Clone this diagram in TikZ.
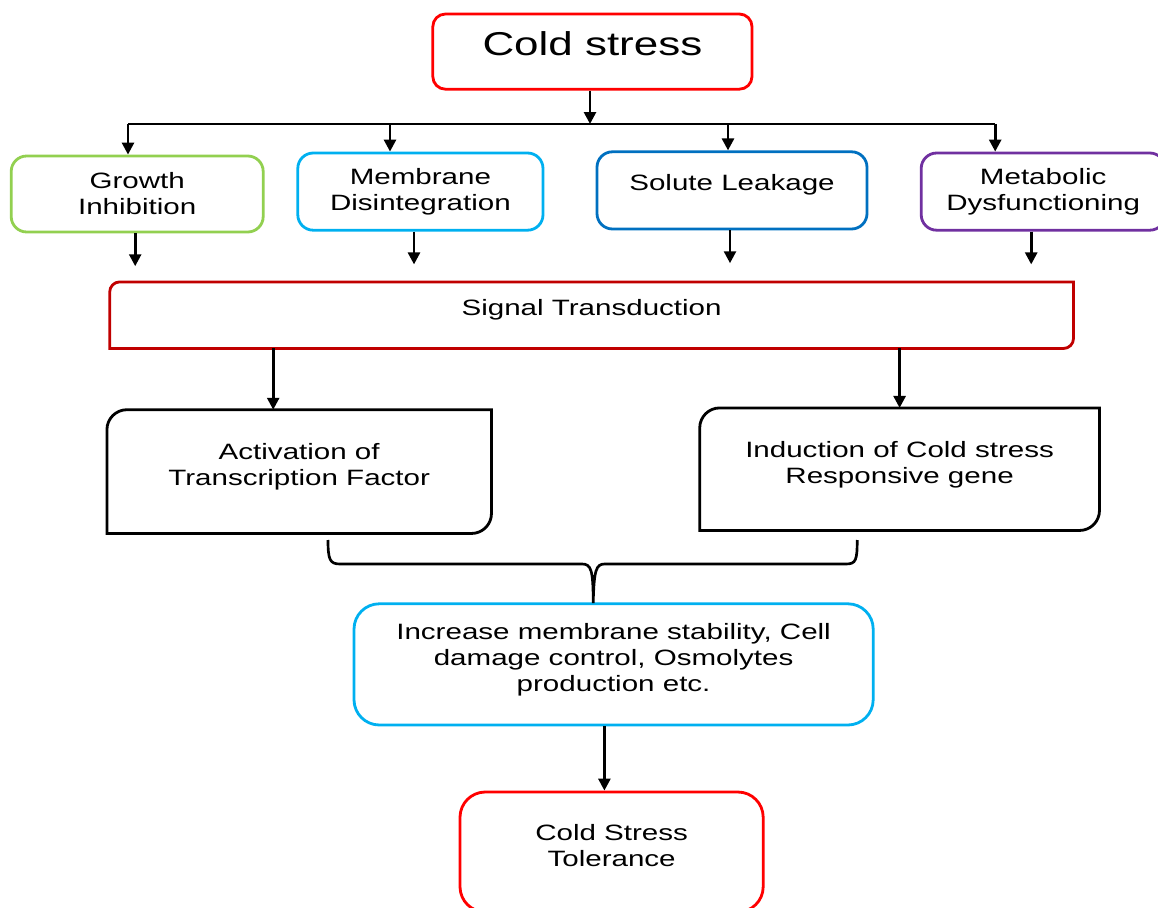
\documentclass[tikz,border=0pt]{standalone}
\usepackage{fontspec}
\setmainfont{Liberation Sans}[FakeStretch=1.33]
\usepackage{tikz}
\usetikzlibrary{calc}
\usetikzlibrary{arrows.meta}
\definecolor{coldred}{RGB}{255, 0, 0}
\definecolor{signalred}{RGB}{192, 0, 0}
\definecolor{leafgreen}{RGB}{146, 208, 80}
\definecolor{skyblue}{RGB}{0, 176, 240}
\definecolor{deepblue}{RGB}{0, 112, 192}
\definecolor{grape}{RGB}{112, 48, 160}
\tikzset{
    box/.style={draw=#1, line width=2pt, align=center,
                font=\fontsize{15.8}{18.5}\selectfont},
    flag/.style={align=center, font=\fontsize{15.8}{18.5}\selectfont},
    lift/.style={text depth=#1},
    arr/.style={line width=1.9pt, -{Triangle[width=8.5pt,length=8.5pt]}},
    link/.style={line width=1.9pt}
}

\begin{document}
\begin{tikzpicture}
            \useasboundingbox (0.00, 0.00) rectangle (28.95,-22.70);
            \clip             (0.00, 0.00) rectangle (28.95,-22.70);
            % Stress
            \node[box=coldred, rounded corners=9pt, lift=12pt, minimum width=7.98cm, minimum height=1.88cm,
                  font=\fontsize{23.5}{28}\selectfont]                      (cold)   at (14.81,-1.29) {Cold stress};
            % Effects
            \node[box=leafgreen, rounded corners=11pt, minimum width=6.30cm, minimum height=1.90cm] (growth) at ( 3.43,-4.85) {Growth\\Inhibition};
            \node[box=skyblue,   rounded corners=11pt, minimum width=6.13cm, minimum height=1.93cm] (membr)  at (10.51,-4.79) {Membrane\\Disintegration};
            \node[box=deepblue,  rounded corners=11pt, lift=11pt, minimum width=6.75cm, minimum height=1.93cm] (solute) at (18.30,-4.76) {Solute Leakage};
            \node[box=grape,     rounded corners=11pt, minimum width=6.10cm, minimum height=1.93cm] (metab)  at (26.08,-4.79) {Metabolic\\Dysfunctioning};
            % Response
            \node[flag, lift=11.5pt, minimum width=24.08cm, minimum height=1.65cm] (signal) at (14.79,-7.88)  {Signal Transduction};
            \node[flag, lift=10pt,   minimum width=9.60cm,  minimum height=3.08cm] (activ)  at ( 7.48,-11.79) {Activation of\\Transcription Factor};
            \node[flag, lift=10pt,   minimum width=9.98cm,  minimum height=3.05cm] (induc)  at (22.49,-11.73) {Induction of Cold stress\\Responsive gene};
            \foreach \n/\c/\rad in {signal/signalred/0.25, activ/black/0.50, induc/black/0.50}
                \draw[\c, line width=2pt] (\n.south west) -- ($(\n.north west)+(0,-\rad)$)
                      arc[start angle=180, end angle=90, radius=\rad] -- (\n.north east)
                      -- ($(\n.south east)+(0,\rad)$) arc[start angle=0, end angle=-90, radius=\rad] -- cycle;
            % Outcome
            \node[box=skyblue, rounded corners=18pt, lift=10pt, minimum width=12.98cm, minimum height=3.03cm] (incr)  at (15.34,-16.61)
                 {Increase membrane stability, Cell\\damage control, Osmolytes\\production etc.};
            \node[box=coldred, rounded corners=18pt, lift=10pt, minimum width=7.58cm,  minimum height=3.00cm] (toler) at (15.29,-21.30)
                 {Cold Stress\\Tolerance};
            % Trunk
            \coordinate (hub) at (14.75,-3.10);
            \coordinate (t1)  at ( 3.20,-3.10);
            \coordinate (t2)  at ( 9.75,-3.10);
            \coordinate (t3)  at (18.20,-3.10);
            \coordinate (t4)  at (24.88,-3.10);
            \draw[arr]  (cold.south -| hub) -- (hub);
            \draw[link] (t1) -- (t4);
            \foreach \t/\n in {t1/growth, t2/membr, t3/solute, t4/metab}
                \draw[arr] (\t) -- (\t |- \n.north);
            \foreach \n/\dx in {growth/-0.05, membr/-0.16, solute/-0.05, metab/-0.30}
                \draw[arr] ([xshift=\dx cm]\n.south) -- ++(0,-0.82);
            \draw[arr] ([xshift=-0.65cm]activ.north |- signal.south) -- ([xshift=-0.65cm]activ.north);
            \draw[arr] (induc.north |- signal.south) -- (induc.north);
            % Brace
            \coordinate (bl)  at ( 8.20,-13.50);
            \coordinate (br)  at (21.43,-13.50);
            \coordinate (tip) at (14.83,-15.08);
            \draw[link] (bl) .. controls ( 8.20,-14.00) and ( 8.25,-14.10) .. ( 8.50,-14.10) -- (14.55,-14.10)
                        .. controls (14.78,-14.10) and (14.83,-14.25) .. (tip)
                        .. controls (14.85,-14.25) and (14.90,-14.10) .. (15.12,-14.10) -- (21.15,-14.10)
                        .. controls (21.40,-14.10) and (21.43,-14.00) .. (br);
            \draw[arr] ([xshift=-0.18cm]toler.north |- incr.south) -- ([xshift=-0.18cm]toler.north);
\end{tikzpicture}
\end{document}
